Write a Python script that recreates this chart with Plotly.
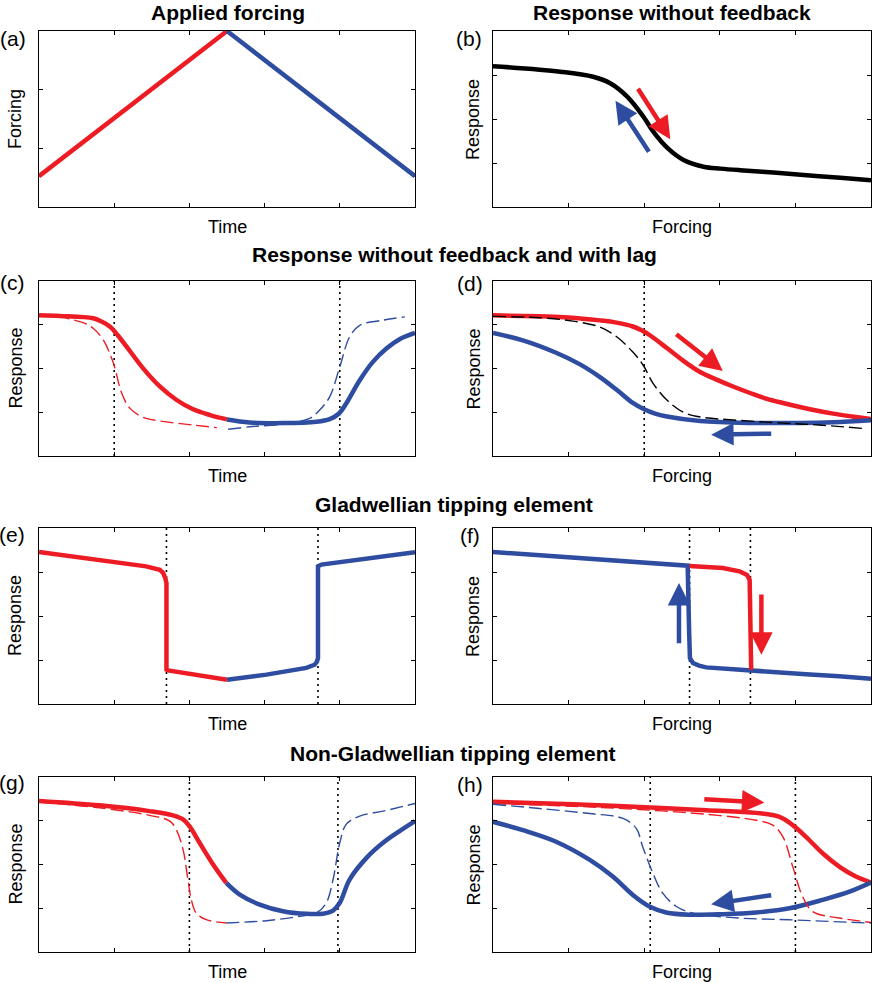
import plotly.graph_objects as go

RED = "#ED1C24"
BLUE = "#2E4DA1"

# (a) applied forcing
a_time_up = [0, 0.5]
a_force_up = [0.175, 1.0]
a_time_down = [0.5, 1.0]
a_force_down = [1.0, 0.175]

# (b) response without feedback
b_x = [0, 0.178, 0.265, 0.310, 0.355, 0.398, 0.424, 0.462, 0.504, 0.557, 0.602, 0.654, 0.742, 0.830, 0.919, 1.0]
b_y = [0.80, 0.769, 0.740, 0.703, 0.627, 0.513, 0.428, 0.334, 0.267, 0.229, 0.218, 0.209, 0.196, 0.180, 0.166, 0.152]

# (c) response with lag vs time
c_red_x = [0, 0.056, 0.144, 0.165, 0.189, 0.211, 0.233, 0.277, 0.322, 0.366, 0.410, 0.455, 0.5]
c_red_y = [0.804, 0.80, 0.787, 0.77, 0.739, 0.686, 0.625, 0.501, 0.396, 0.32, 0.267, 0.234, 0.209]
c_blue_x = [0.5, 0.560, 0.649, 0.738, 0.773, 0.798, 0.817, 0.853, 0.888, 0.924, 0.959, 1.0]
c_blue_y = [0.209, 0.192, 0.188, 0.196, 0.211, 0.243, 0.30, 0.433, 0.538, 0.614, 0.667, 0.703]
c_red_dash_x = [0, 0.056, 0.078, 0.122, 0.144, 0.171, 0.198, 0.22, 0.242, 0.277, 0.322, 0.41, 0.473]
c_red_dash_y = [0.804, 0.80, 0.785, 0.758, 0.73, 0.663, 0.53, 0.358, 0.272, 0.221, 0.20, 0.177, 0.162]
c_blue_dash_x = [0.503, 0.560, 0.649, 0.720, 0.746, 0.773, 0.80, 0.826, 0.853, 0.915, 0.973]
c_blue_dash_y = [0.153, 0.167, 0.183, 0.215, 0.262, 0.338, 0.51, 0.68, 0.747, 0.776, 0.795]
c_marks = [0.2, 0.8]

# (d) response with lag vs forcing
d_red_x = [0, 0.123, 0.2, 0.283, 0.327, 0.370, 0.393, 0.415, 0.460, 0.503, 0.548, 0.593, 0.635, 0.680, 0.725, 0.767, 0.812, 0.855, 0.90, 0.95, 1.0]
d_red_y = [0.804, 0.798, 0.792, 0.775, 0.762, 0.740, 0.718, 0.690, 0.617, 0.545, 0.48, 0.435, 0.397, 0.36, 0.326, 0.303, 0.28, 0.26, 0.242, 0.226, 0.212]
d_blue_x = [0, 0.079, 0.167, 0.229, 0.283, 0.328, 0.370, 0.397, 0.429, 0.460, 0.548, 0.68, 0.812, 0.9, 1.0]
d_blue_y = [0.703, 0.661, 0.59, 0.525, 0.451, 0.377, 0.303, 0.27, 0.242, 0.226, 0.20, 0.189, 0.189, 0.193, 0.204]
d_black_x = [0, 0.123, 0.211, 0.283, 0.328, 0.370, 0.397, 0.423, 0.460, 0.503, 0.548, 0.635, 0.767, 0.87, 0.987]
d_black_y = [0.798, 0.79, 0.771, 0.737, 0.68, 0.594, 0.52, 0.417, 0.32, 0.251, 0.223, 0.206, 0.188, 0.176, 0.156]
d_marks = [0.4]

# (e) Gladwellian vs time
e_red_x = [0, 0.161, 0.285, 0.321, 0.330, 0.336, 0.339, 0.339, 0.343, 0.5]
e_red_y = [0.864, 0.82, 0.782, 0.763, 0.745, 0.715, 0.688, 0.195, 0.191, 0.138]
e_blue_x = [0.5, 0.605, 0.711, 0.733, 0.739, 0.742, 0.742, 0.751, 1.0]
e_blue_y = [0.138, 0.167, 0.205, 0.223, 0.240, 0.261, 0.782, 0.792, 0.862]
e_marks = [0.339, 0.742]

# (f) Gladwellian vs forcing
f_blue_x = [0, 0.211, 0.388, 0.515, 0.519, 0.521, 0.529, 0.545, 0.564, 0.652, 0.740, 0.828, 0.916, 1.0]
f_blue_y = [0.864, 0.833, 0.807, 0.786, 0.40, 0.261, 0.233, 0.218, 0.208, 0.193, 0.182, 0.169, 0.157, 0.144]
f_red_x = [0.52, 0.608, 0.652, 0.672, 0.679, 0.683]
f_red_y = [0.784, 0.773, 0.754, 0.733, 0.705, 0.195]
f_marks = [0.52, 0.681]

# (g) non-Gladwellian vs time
g_red_x = [0, 0.161, 0.294, 0.356, 0.383, 0.401, 0.427, 0.463, 0.498]
g_red_y = [0.863, 0.838, 0.805, 0.781, 0.758, 0.716, 0.624, 0.50, 0.395]
g_blue_x = [0.498, 0.534, 0.587, 0.649, 0.711, 0.755, 0.782, 0.80, 0.826, 0.871, 0.915, 0.959, 1.0]
g_blue_y = [0.395, 0.328, 0.271, 0.233, 0.218, 0.219, 0.237, 0.281, 0.414, 0.538, 0.624, 0.691, 0.748]
g_red_dash_x = [0, 0.161, 0.294, 0.348, 0.365, 0.383, 0.396, 0.405, 0.418, 0.445, 0.498]
g_red_dash_y = [0.857, 0.824, 0.781, 0.748, 0.70, 0.586, 0.414, 0.30, 0.223, 0.185, 0.166]
g_blue_dash_x = [0.498, 0.605, 0.693, 0.738, 0.764, 0.782, 0.80, 0.817, 0.853, 0.915, 1.0]
g_blue_dash_y = [0.166, 0.179, 0.204, 0.223, 0.281, 0.414, 0.624, 0.729, 0.777, 0.805, 0.849]
g_marks = [0.4, 0.795]

# (h) non-Gladwellian vs forcing
h_red_x = [0, 0.211, 0.388, 0.564, 0.696, 0.758, 0.793, 0.828, 0.872, 0.916, 0.960, 1.0]
h_red_y = [0.858, 0.844, 0.829, 0.81, 0.795, 0.772, 0.725, 0.658, 0.564, 0.488, 0.431, 0.397]
h_blue_x = [0, 0.079, 0.167, 0.256, 0.317, 0.370, 0.414, 0.458, 0.520, 0.608, 0.696, 0.784, 0.872, 0.943, 1.0]
h_blue_y = [0.744, 0.696, 0.63, 0.526, 0.431, 0.326, 0.26, 0.226, 0.213, 0.216, 0.226, 0.25, 0.298, 0.345, 0.397]
h_red_dash_x = [0, 0.211, 0.388, 0.564, 0.696, 0.740, 0.767, 0.793, 0.819, 0.846, 0.916, 1.0]
h_red_dash_y = [0.848, 0.833, 0.814, 0.787, 0.753, 0.725, 0.658, 0.488, 0.317, 0.231, 0.194, 0.169]
h_blue_dash_x = [0, 0.123, 0.256, 0.344, 0.379, 0.396, 0.423, 0.449, 0.485, 0.529, 0.652, 0.784, 1.0]
h_blue_dash_y = [0.844, 0.82, 0.791, 0.763, 0.706, 0.602, 0.45, 0.336, 0.26, 0.222, 0.194, 0.184, 0.165]
h_marks = [0.416, 0.80]

# arrows: (panel, colour, tail x, tail y, head x, head y)
arrows = [
    (2, RED, 0.381, 0.68, 0.469, 0.385),
    (2, BLUE, 0.415, 0.305, 0.324, 0.604),
    (4, RED, 0.481, 0.703, 0.608, 0.486),
    (4, BLUE, 0.740, 0.128, 0.577, 0.122),
    (6, BLUE, 0.492, 0.337, 0.492, 0.688),
    (6, RED, 0.710, 0.631, 0.710, 0.28),
    (8, RED, 0.555, 0.873, 0.718, 0.854),
    (8, BLUE, 0.740, 0.326, 0.577, 0.273),
]

fig = go.Figure()


def line(n, x, y, color, width=4.5, dash=None, shape="spline"):
    fig.add_trace(go.Scatter(
        x=x, y=y, mode="lines", xaxis="x%d" % n, yaxis="y%d" % n,
        line=dict(color=color, width=width, dash=dash, shape=shape, smoothing=1.0),
        showlegend=False, hoverinfo="skip"))


def marks(n, xs):
    for v in xs:
        line(n, [v, v], [0, 1], "black", width=1.6, dash="2px,4px", shape="linear")


# dotted markers first so they sit behind the curves
marks(3, c_marks)
marks(4, d_marks)
marks(5, e_marks)
marks(6, f_marks)
marks(7, g_marks)
marks(8, h_marks)

line(1, a_time_up, a_force_up, RED, shape="linear")
line(1, a_time_down, a_force_down, BLUE, shape="linear")
line(2, b_x, b_y, "black")

line(3, c_red_x, c_red_y, RED)
line(3, c_blue_x, c_blue_y, BLUE)
line(3, c_red_dash_x, c_red_dash_y, RED, width=1.4, dash="13px,5px")
line(3, c_blue_dash_x, c_blue_dash_y, BLUE, width=1.4, dash="13px,5px")

line(4, d_red_x, d_red_y, RED)
line(4, d_blue_x, d_blue_y, BLUE)
line(4, d_black_x, d_black_y, "black", width=1.4, dash="13px,5px")

line(5, e_red_x, e_red_y, RED, shape="linear")
line(5, e_blue_x, e_blue_y, BLUE, shape="linear")

line(6, f_blue_x, f_blue_y, BLUE, shape="linear")
line(6, f_red_x, f_red_y, RED, shape="linear")

line(7, g_red_x, g_red_y, RED)
line(7, g_blue_x, g_blue_y, BLUE)
line(7, g_red_dash_x, g_red_dash_y, RED, width=1.4, dash="13px,5px")
line(7, g_blue_dash_x, g_blue_dash_y, BLUE, width=1.4, dash="13px,5px")

line(8, h_red_x, h_red_y, RED)
line(8, h_blue_x, h_blue_y, BLUE)
line(8, h_red_dash_x, h_red_dash_y, RED, width=1.4, dash="13px,5px")
line(8, h_blue_dash_x, h_blue_dash_y, BLUE, width=1.4, dash="13px,5px")

W, H = 873, 983


def px_x(p):
    return p / W


def px_y(p):
    return 1 - p / H


col_px = [(39, 415), (493, 871)]
row_px = [(31, 207), (281, 456), (528, 704), (777, 952)]
col_dom = [[px_x(a), px_x(b)] for a, b in col_px]
row_dom = [[px_y(b), px_y(t)] for t, b in row_px]

FONT = "Liberation Sans, Arial, sans-serif"
layout = dict(width=W, height=H, margin=dict(l=0, r=0, t=0, b=0),
              paper_bgcolor="white", plot_bgcolor="white",
              font=dict(family=FONT, color="black"), showlegend=False)

ann = []


def text(t, px, py, size, angle=0):
    ann.append(dict(text=t, x=px_x(px), y=px_y(py), xref="paper", yref="paper",
                    xanchor="center", yanchor="middle", showarrow=False,
                    textangle=angle, font=dict(size=size)))


letters = "abcdefgh"
xlabels = ["Time", "Forcing"]
label_pos = [(13, 39), (469, 39), (12, 282), (470, 283), (12, 534), (470, 535), (12, 782), (470, 784)]
for i in range(8):
    n = i + 1
    r, c = divmod(i, 2)
    yt = [1 / 3, 2 / 3] if n == 1 else [0.25, 0.5, 0.75]
    common = dict(range=[0, 1], showline=True, linecolor="black", linewidth=1,
                  mirror="ticks", ticks="inside", ticklen=4, tickcolor="black",
                  showticklabels=False, showgrid=False, zeroline=False, fixedrange=True)
    layout["xaxis%d" % n] = dict(domain=col_dom[c], anchor="y%d" % n,
                                 tickvals=[0, 0.2, 0.4, 0.6, 0.8, 1.0], **common)
    layout["yaxis%d" % n] = dict(domain=row_dom[r], anchor="x%d" % n, tickvals=yt, **common)

    top, bot = row_px[r]
    cx = (col_px[c][0] + col_px[c][1]) / 2
    text(xlabels[c], cx, bot + 20, 18)
    text("Forcing" if n == 1 else "Response", 15 if c == 0 else 473, (top + bot) / 2, 18, -90)
    lx, ly = label_pos[i]
    text("(%s)" % letters[i], lx, ly, 21)

titles = [("Applied forcing", 228, 12), ("Response without feedback", 672, 12),
          ("Response without feedback and with lag", 454, 254),
          ("Gladwellian tipping element", 454, 505),
          ("Non-Gladwellian tipping element", 453, 753)]
for t, tx, ty in titles:
    text("<b>%s</b>" % t, tx, ty, 21)

for n, col, tx, ty, hx, hy in arrows:
    ann.append(dict(x=hx, y=hy, ax=tx, ay=ty, xref="x%d" % n, yref="y%d" % n,
                    axref="x%d" % n, ayref="y%d" % n, text="", showarrow=True,
                    arrowhead=2, arrowsize=1.0, arrowwidth=4.5, arrowcolor=col, standoff=0))

layout["annotations"] = ann
fig.update_layout(**layout)
# drop the browser's default 8px body margin so the figure sits at the page corner
fig.write_html("out.html", config={"displayModeBar": False},
               post_script="document.body.style.margin = '0';")
